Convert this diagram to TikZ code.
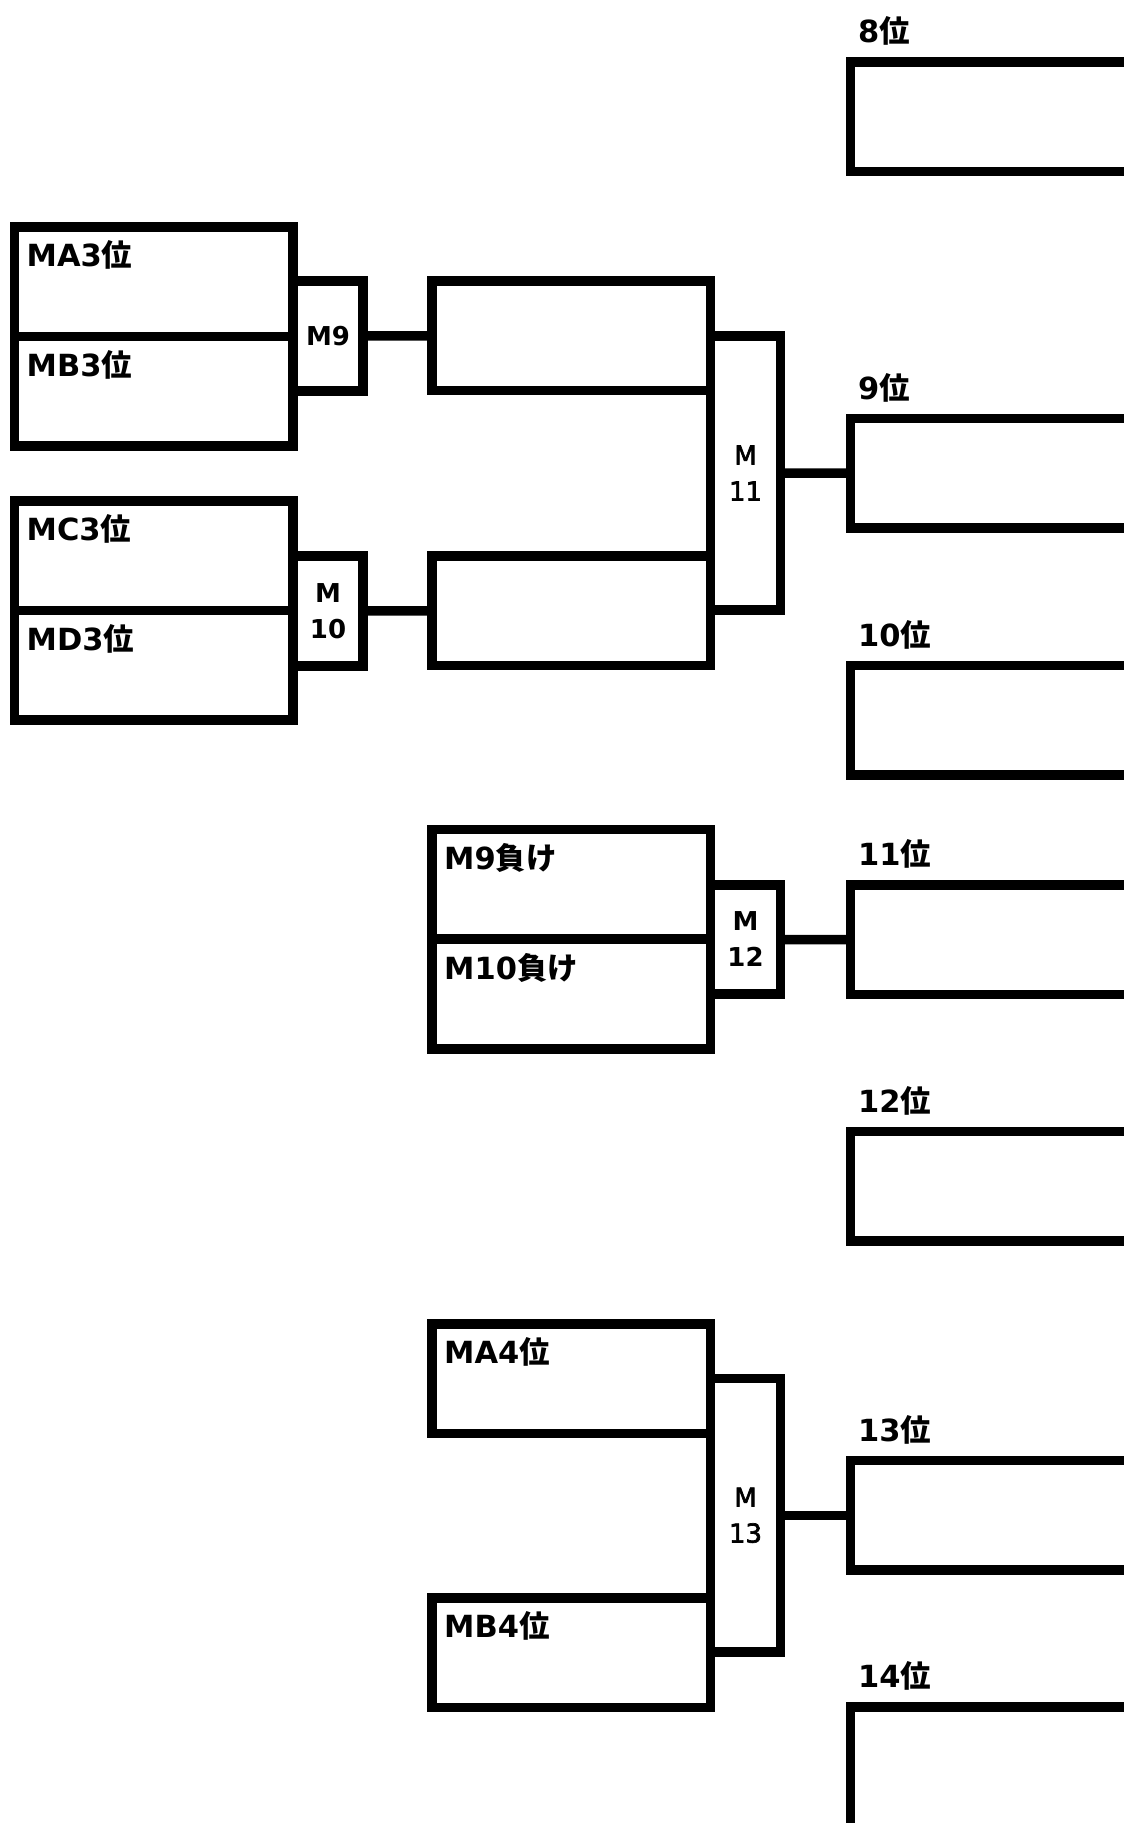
\documentclass[tikz,border=0pt]{standalone}
\usepackage{fontspec}
\setmainfont{DejaVu Sans}
\newfontfamily\jpfont{Noto Sans CJK JP}
\newfontface\medfont{DejaVu Sans}[FakeBold=2.5]
\newcommand\jp[1]{{\jpfont #1}}
\usetikzlibrary{positioning}

\tikzset{
  slot/.style={draw, line width=9.5pt, outer sep=0pt, inner sep=0pt,
    minimum width=278.5pt, minimum height=109.5pt, anchor=north west},
  rankbox/.style={slot, minimum width=400pt},
  matchbox/.style={draw, line width=9.5pt, outer sep=0pt, inner sep=0pt,
    minimum width=70pt, align=center, anchor=north west,
    font=\fontsize{26}{36}\selectfont\bfseries},
  team/.style={anchor=base west, inner sep=0pt,
    font=\fontsize{30.5}{36}\selectfont\bfseries}
}

\begin{document}
\begin{tikzpicture}[x=1pt,y=-1pt]
\useasboundingbox (0,0) rectangle (1124,1823);
\clip (0,0) rectangle (1124,1823);

% first round
\node[slot] (ma3) at (14.5,227) {};
\node[slot] (mb3) at (14.5,336.5) {};
\node[slot] (mc3) at (14.5,501) {};
\node[slot] (md3) at (14.5,610.5) {};

% second column
\node[slot] (w9) at (432,281) {};
\node[slot] (w10) at (432,556) {};
\node[slot] (l9) at (432,829.5) {};
\node[slot] (l10) at (432,939.5) {};
\node[slot] (ma4) at (432,1324) {};
\node[slot] (mb4) at (432,1598) {};

\foreach \n/\lab in {ma3/MA3\jp{位},mb3/MB3\jp{位},mc3/MC3\jp{位},md3/MD3\jp{位},l9/M9\jp{負け},l10/M10\jp{負け},ma4/MA4\jp{位},mb4/MB4\jp{位}}
  \node[team] at ([shift={(12,39.5)}]\n.north west) {\lab};

% matches
\node[matchbox, minimum height=110pt] (m9) at (293,281) {M9};
\node[matchbox, minimum height=110pt] (m10) at (293,556) {M\\10};
\node[matchbox, minimum height=274pt, font=\fontsize{26}{36}\selectfont\medfont] (m11) at (710.5,336) {M\\11};
\node[matchbox, minimum height=109pt] (m12) at (710.5,885) {M\\12};
\node[matchbox, minimum height=273.5pt, font=\fontsize{26}{36}\selectfont\medfont] (m13) at (710.5,1378.5) {M\\13};

% places
\foreach \p/\yy/\h in {8/62/109.5,9/418.5/109.5,10/665.5/109.5,11/885/109.5,12/1131.5/109.5,13/1460.5/109.5,14/1707/160}{
  \node[rankbox, minimum height=\h pt] (r\p) at (850.5,\yy) {};
  \node[team] at ([shift={(7.5,-19.5)}]r\p.north west) {\p\jp{位}};
}

\draw[line width=9.5pt] (m9.east) -- (w9.west);
\draw[line width=9.5pt] (m10.east) -- (w10.west);
\draw[line width=9.5pt] (m11.east) -- (r9.west);
\draw[line width=9.5pt] (m12.east) -- (r11.west);
\draw[line width=9.5pt] (m13.east) -- (r13.west);
\end{tikzpicture}
\end{document}
